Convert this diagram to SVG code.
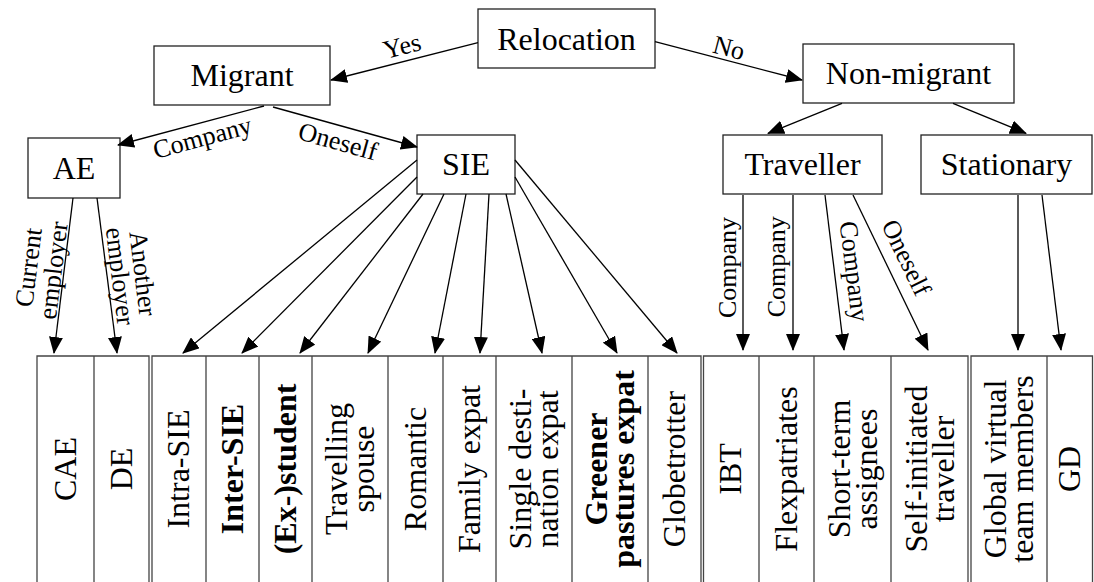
<svg xmlns="http://www.w3.org/2000/svg" width="1094" height="582" viewBox="0 0 1094 582">
  <style>
    .box { fill: #ffffff; stroke: #222; stroke-width: 1.3; }
    .nt { font-family: "Liberation Serif", "Times New Roman", serif; font-size: 32px; fill: #000; text-anchor: middle; }
    .el { font-family: "Liberation Serif", "Times New Roman", serif; font-size: 26px; fill: #000; text-anchor: middle; }
    .edge { stroke: #000; stroke-width: 1.3; fill: none; marker-end: url(#ah); }
    .grid { stroke: #444; stroke-width: 1.3; fill: none; }
    .b { font-weight: bold; }
  </style>
  <defs>
    <marker id="ah" markerUnits="userSpaceOnUse" markerWidth="17" markerHeight="14" refX="16" refY="7" orient="auto">
      <path d="M0,0 L17,7 L0,14 z" fill="#000"/>
    </marker>
  </defs>
  <rect width="1094" height="582" fill="#ffffff"/>

  <!-- tree nodes -->
  <g id="relocation"><rect class="box" x="478" y="9" width="177" height="59"/><text class="nt" x="566.5" y="50">Relocation</text></g>
  <g id="migrant"><rect class="box" x="154" y="46" width="176" height="59"/><text class="nt" x="242" y="86">Migrant</text></g>
  <g id="non-migrant"><rect class="box" x="803" y="44" width="211" height="59"/><text class="nt" x="908.5" y="84">Non-migrant</text></g>
  <g id="ae"><rect class="box" x="28" y="138" width="92" height="60"/><text class="nt" x="74" y="178.5">AE</text></g>
  <g id="sie"><rect class="box" x="417" y="135" width="98" height="59"/><text class="nt" x="466" y="175">SIE</text></g>
  <g id="traveller"><rect class="box" x="723" y="135" width="159" height="59"/><text class="nt" x="802.5" y="175">Traveller</text></g>
  <g id="stationary"><rect class="box" x="921" y="135" width="171" height="59"/><text class="nt" x="1006.5" y="175">Stationary</text></g>

  <!-- connectors -->
  <g id="connectors">
    <line class="edge" x1="478" y1="42.7" x2="331" y2="80"/>
    <line class="edge" x1="655" y1="41.7" x2="802" y2="80"/>
    <line class="edge" x1="264" y1="106" x2="118" y2="145"/>
    <line class="edge" x1="273" y1="107" x2="417" y2="147"/>
    <line class="edge" x1="842" y1="103.3" x2="768" y2="133.3"/>
    <line class="edge" x1="953" y1="103.3" x2="1026" y2="133.3"/>
    <line class="edge" x1="73" y1="198" x2="54" y2="353"/>
    <line class="edge" x1="97" y1="198" x2="117" y2="353"/>
    <line class="edge" x1="417" y1="160" x2="183" y2="353"/>
    <line class="edge" x1="417" y1="177" x2="242" y2="353"/>
    <line class="edge" x1="423" y1="194" x2="300" y2="353"/>
    <line class="edge" x1="444" y1="194" x2="368" y2="353"/>
    <line class="edge" x1="466" y1="194" x2="435" y2="353"/>
    <line class="edge" x1="489" y1="194" x2="480" y2="353"/>
    <line class="edge" x1="506" y1="194" x2="542" y2="353"/>
    <line class="edge" x1="515" y1="177" x2="617" y2="353"/>
    <line class="edge" x1="515" y1="160" x2="677" y2="353"/>
    <line class="edge" x1="743" y1="195" x2="743" y2="350"/>
    <line class="edge" x1="793" y1="195" x2="793" y2="350"/>
    <line class="edge" x1="825" y1="195" x2="844" y2="350"/>
    <line class="edge" x1="853" y1="195" x2="928" y2="350"/>
    <line class="edge" x1="1018" y1="195" x2="1018" y2="350"/>
    <line class="edge" x1="1042" y1="195" x2="1061" y2="350"/>

    <!-- edge labels -->
    <text class="el" transform="translate(402,46) rotate(-14.5)" y="8.6">Yes</text>
    <text class="el" transform="translate(729,48) rotate(14.6)" y="8.6">No</text>
    <text class="el" transform="translate(203,140) rotate(-15)" y="6">Company</text>
    <text class="el" transform="translate(338,141) rotate(15.5)" y="9">Oneself</text>
    <text class="el" transform="translate(42,269) rotate(-83)"><tspan x="0" y="-5">Current</tspan><tspan x="0" y="20">employer</tspan></text>
    <text class="el" transform="translate(130,275) rotate(83)"><tspan x="0" y="-4.5">Another</tspan><tspan x="0" y="18.5">employer</tspan></text>
    <text class="el" transform="translate(730,267.5) rotate(-90)" y="6">Company</text>
    <text class="el" transform="translate(779,266.7) rotate(-90)" y="6">Company</text>
    <text class="el" transform="translate(851.7,271.7) rotate(83)" y="6">Company</text>
    <text class="el" transform="translate(906.7,257.5) rotate(64)" y="9">Oneself</text>
  </g>

  <!-- category table -->
  <g id="table">
    <path class="grid" d="M37,590 V356 H149 V590 M94,356 V590"/>
    <path class="grid" d="M152,590 V356 H701 V590 M206,356 V590 M259,356 V590 M312,356 V590 M388,356 V590 M443,356 V590 M496,356 V590 M572,356 V590 M648,356 V590"/>
    <path class="grid" d="M703.5,590 V356 H968 V590 M759,356 V590 M814,356 V590 M891,356 V590"/>
    <path class="grid" d="M971,590 V356 H1092.5 V590 M1047,356 V590"/>
  </g>

  <g id="cae"><text class="nt" transform="translate(65.5,469) rotate(-90)" y="10">CAE</text></g>
  <g id="de"><text class="nt" transform="translate(121.5,469) rotate(-90)" y="10">DE</text></g>
  <g id="intra-sie"><text class="nt" transform="translate(179,469) rotate(-90)" y="10">Intra-SIE</text></g>
  <g id="inter-sie"><text class="nt b" transform="translate(232.5,469) rotate(-90)" y="10">Inter-SIE</text></g>
  <g id="ex-student"><text class="nt b" transform="translate(285.5,469) rotate(-90)" y="10">(Ex-)student</text></g>
  <g id="travelling-spouse"><text class="nt" transform="translate(350,469) rotate(-90)"><tspan x="0" y="-3">Travelling</tspan><tspan x="0" y="24">spouse</tspan></text></g>
  <g id="romantic"><text class="nt" transform="translate(415.5,469) rotate(-90)" y="10">Romantic</text></g>
  <g id="family-expat"><text class="nt" transform="translate(469.5,469) rotate(-90)" y="10">Family expat</text></g>
  <g id="single-destination-expat"><text class="nt" transform="translate(534,469) rotate(-90)"><tspan x="0" y="-3">Single desti-</tspan><tspan x="0" y="24">nation expat</tspan></text></g>
  <g id="greener-pastures-expat"><text class="nt b" transform="translate(610,469) rotate(-90)"><tspan x="0" y="-3">Greener</tspan><tspan x="0" y="24">pastures expat</tspan></text></g>
  <g id="globetrotter"><text class="nt" transform="translate(674.5,469) rotate(-90)" y="10">Globetrotter</text></g>
  <g id="ibt"><text class="nt" transform="translate(731,469) rotate(-90)" y="10">IBT</text></g>
  <g id="flexpatriates"><text class="nt" transform="translate(786.5,469) rotate(-90)" y="10">Flexpatriates</text></g>
  <g id="short-term-assignees"><text class="nt" transform="translate(852.5,469) rotate(-90)"><tspan x="0" y="-3">Short-term</tspan><tspan x="0" y="24">assignees</tspan></text></g>
  <g id="self-initiated-traveller"><text class="nt" transform="translate(929.5,469) rotate(-90)"><tspan x="0" y="-3">Self-initiated</tspan><tspan x="0" y="24">traveller</tspan></text></g>
  <g id="global-virtual-team-members"><text class="nt" transform="translate(1009,469) rotate(-90)"><tspan x="0" y="-3">Global virtual</tspan><tspan x="0" y="24">team members</tspan></text></g>
  <g id="gd"><text class="nt" transform="translate(1069.5,469) rotate(-90)" y="10">GD</text></g>
</svg>
